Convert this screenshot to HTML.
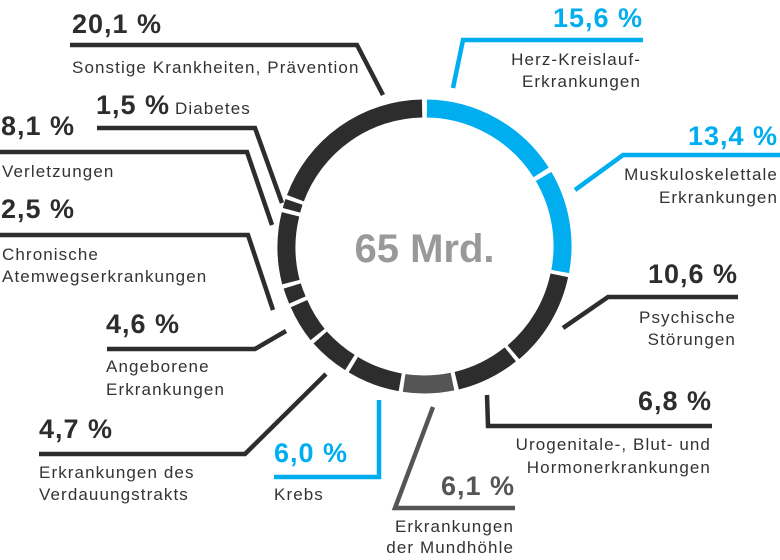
<!DOCTYPE html>
<html><head><meta charset="utf-8"><style>
html,body{margin:0;padding:0;background:#fff;}
svg{display:block;}
text{font-family:"Liberation Sans",sans-serif;}
.p{font-size:27px;font-weight:bold;fill:#2d2d2d;letter-spacing:1px;}
.l{font-size:17px;fill:#333;letter-spacing:1.1px;}
.b{fill:#00aeef;}
.g{fill:#555;}
</style></head><body>
<svg width="780" height="560" viewBox="0 0 780 560" xmlns="http://www.w3.org/2000/svg">
<text x="424.5" y="262" text-anchor="middle" font-size="40" font-weight="bold" fill="#999">65 Mrd.</text>

<g fill="none" stroke-width="4.5" stroke-linejoin="miter">
<polyline points="70,45 357,45 383,95" stroke="#2d2d2d"/>
<polyline points="453,88 463,40 643,40" stroke="#00aeef"/>
<polyline points="575,190 623,155 780,155" stroke="#00aeef"/>
<polyline points="563,328 608,297 738,297" stroke="#2d2d2d"/>
<polyline points="487,395 488,426 712,426" stroke="#2d2d2d"/>
<polyline points="433,407 395,508 515,508" stroke="#555"/>
<polyline points="379,400 379,477 274,477" stroke="#00aeef"/>
<polyline points="326,374 245,454 39,454" stroke="#2d2d2d"/>
<polyline points="286,331 255,349 107,349" stroke="#2d2d2d"/>
<polyline points="273,310 248,235 0,235" stroke="#2d2d2d"/>
<polyline points="272,225 247,152 0,152" stroke="#2d2d2d"/>
<polyline points="282,203 255,128 97,128" stroke="#2d2d2d"/>
</g>

<text class="p" x="72" y="33">20,1 %</text>
<text class="l" x="72" y="73">Sonstige Krankheiten, Prävention</text>

<text class="p b" x="643" y="27" text-anchor="end">15,6 %</text>
<text class="l" x="641" y="65" text-anchor="end">Herz-Kreislauf-</text>
<text class="l" x="641" y="87" text-anchor="end">Erkrankungen</text>

<text class="p b" x="778" y="145" text-anchor="end">13,4 %</text>
<text class="l" x="778" y="180" text-anchor="end">Muskuloskelettale</text>
<text class="l" x="778" y="203" text-anchor="end">Erkrankungen</text>

<text class="p" x="738" y="283" text-anchor="end">10,6 %</text>
<text class="l" x="736" y="323" text-anchor="end">Psychische</text>
<text class="l" x="736" y="345" text-anchor="end">Störungen</text>

<text class="p" x="712" y="410" text-anchor="end">6,8 %</text>
<text class="l" x="711" y="450" text-anchor="end">Urogenitale-, Blut- und</text>
<text class="l" x="711" y="473" text-anchor="end">Hormonerkrankungen</text>

<text class="p g" x="515" y="495" text-anchor="end">6,1 %</text>
<text class="l" x="514" y="532" text-anchor="end">Erkrankungen</text>
<text class="l" x="514" y="553" text-anchor="end">der Mundhöhle</text>

<text class="p b" x="274" y="462">6,0 %</text>
<text class="l" x="274" y="500">Krebs</text>

<text class="p" x="39" y="438">4,7 %</text>
<text class="l" x="39" y="478">Erkrankungen des</text>
<text class="l" x="39" y="500">Verdauungstrakts</text>

<text class="p" x="106" y="333">4,6 %</text>
<text class="l" x="106" y="372">Angeborene</text>
<text class="l" x="106" y="395">Erkrankungen</text>

<text class="p" x="1" y="218">2,5 %</text>
<text class="l" x="2" y="260">Chronische</text>
<text class="l" x="2" y="282">Atemwegserkrankungen</text>

<text class="p" x="1" y="135">8,1 %</text>
<text class="l" x="2" y="177">Verletzungen</text>

<text class="p" x="96" y="114">1,5 %</text>
<text class="l" x="175" y="114">Diabetes</text>

<g fill="none" stroke-width="18">
<path d="M 426.9 108.5 A 138 138 0 0 1 541.1 172.4" stroke="#00aeef"/>
<path d="M 543.6 176.4 A 138 138 0 0 1 560.2 271.5" stroke="#00aeef"/>
<path d="M 559.3 275.3 A 138 138 0 0 1 513.4 352.2" stroke="#2d2d2d"/>
<path d="M 510.3 354.4 A 138 138 0 0 1 456.7 380.7" stroke="#2d2d2d"/>
<path d="M 452.5 381.6 A 138 138 0 0 1 404.1 383.0" stroke="#555"/>
<path d="M 400.2 382.3 A 138 138 0 0 1 353.3 364.7" stroke="#2d2d2d"/>
<path d="M 349.9 362.5 A 138 138 0 0 1 320.2 337.5" stroke="#2d2d2d"/>
<path d="M 317.6 334.5 A 138 138 0 0 1 299.0 303.6" stroke="#2d2d2d"/>
<path d="M 297.4 300.0 A 138 138 0 0 1 292.2 286.0" stroke="#2d2d2d"/>
<path d="M 290.9 282.1 A 138 138 0 0 1 290.5 214.3" stroke="#2d2d2d"/>
<path d="M 291.5 210.3 A 138 138 0 0 1 294.0 201.9" stroke="#2d2d2d"/>
<path d="M 295.4 198.2 A 138 138 0 0 1 422.1 108.5" stroke="#2d2d2d"/>
</g>
</svg>
</body></html>
